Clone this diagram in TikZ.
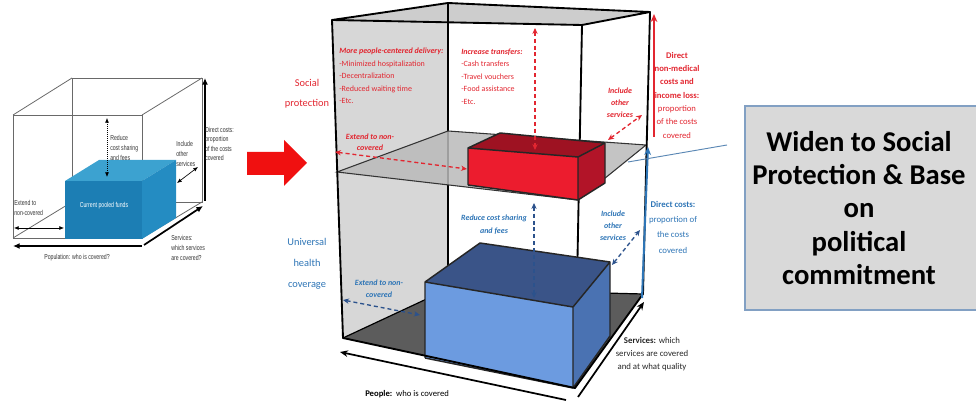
\documentclass[tikz,border=0pt]{standalone}
\usepackage{fontspec}
\setmainfont{Carlito}
\newfontfamily\condfont[FakeStretch=0.72]{Liberation Sans}
\usetikzlibrary{arrows.meta}
\definecolor{rtxt}{RGB}{226,38,48}
\definecolor{btxt}{RGB}{46,117,182}
\definecolor{bdark}{RGB}{44,82,140}
\definecolor{boxtop}{RGB}{58,84,136}
\definecolor{boxfront}{RGB}{108,155,224}
\definecolor{boxside}{RGB}{74,114,178}
\definecolor{redfront}{RGB}{236,28,46}
\definecolor{redtop}{RGB}{158,18,34}
\definecolor{redside}{RGB}{178,20,40}
\definecolor{floorc}{RGB}{92,92,92}
\definecolor{wallc}{RGB}{215,215,215}
\definecolor{slicec}{RGB}{186,186,186}
\definecolor{ceilc}{RGB}{205,205,205}
\definecolor{pfront}{RGB}{28,126,180}
\definecolor{ptop}{RGB}{60,162,208}
\definecolor{pside}{RGB}{36,140,194}
\definecolor{thinc}{RGB}{105,105,105}
\definecolor{panel}{RGB}{217,217,217}
\definecolor{panelline}{RGB}{130,160,195}
\definecolor{linkc}{RGB}{90,135,180}
\definecolor{arrowred}{RGB}{240,16,16}

\begin{document}
\begin{tikzpicture}[x=0.75pt,y=-0.75pt,
  edge/.style={line width=1.4pt, line join=round, line cap=round},
  backedge/.style={line width=0.9pt},
  thinedge/.style={draw=thinc, line width=0.6pt},
  rdash/.style={draw=rtxt, line width=1pt, dash pattern=on 3pt off 2.2pt,
                {Stealth[length=4.5pt,width=4pt]}-{Stealth[length=4.5pt,width=4pt]}},
  bdash/.style={draw=bdark, line width=1pt, dash pattern=on 3pt off 2.2pt,
                {Stealth[length=4.5pt,width=4pt]}-{Stealth[length=4.5pt,width=4pt]}},
  smallarr/.style={draw=black, line width=0.5pt, {Latex[length=3.5pt,width=3pt]}-{Latex[length=3.5pt,width=3pt]}},
  bigarr/.style={draw=black, line width=1.3pt, -{Latex[length=5pt,width=4.5pt]}},
  lab/.style={inner sep=0pt, font=\fontsize{6}{9}\selectfont\bfseries\itshape},
  cond/.style={inner sep=0pt, align=left, font=\condfont\fontsize{5.4}{7.5}\selectfont, text=black!80},
]
\path[use as bounding box] (0,0) rectangle (976,402);

% ---------------- small cube (current situation) ----------------
\coordinate (F1) at (13,115);  \coordinate (F2) at (142,115);
\coordinate (F3) at (142,238); \coordinate (F4) at (13,238);
\coordinate (B1) at (72,78);   \coordinate (B2) at (202,78);
\coordinate (B3) at (202,202); \coordinate (B4) at (72,202);
\draw[thinedge] (B1)--(B2)--(B3)--(B4)--cycle;
\draw[thinedge] (F1)--(B1) (F2)--(B2) (F3)--(B3) (F4)--(B4);
\draw[thinedge] (F1)--(F2)--(F3)--(F4)--cycle;
% pooled funds block
\fill[pfront] (65,181) rectangle (142,239);
\fill[ptop] (65,181)--(99,160)--(176,160)--(142,181)--cycle;
\fill[pside] (142,181)--(176,160)--(176,218)--(142,239)--cycle;
\node[inner sep=0pt, text=white, font=\condfont\fontsize{5.4}{7}\selectfont] (pooled) at (104,206) {Current pooled funds};
% small cube arrows
\coordinate (rdA) at (107,118); \coordinate (rdB) at (107,177);
\draw[smallarr, densely dotted] (rdA)--(rdB);
\coordinate (ioA) at (177,183); \coordinate (ioB) at (198,167);
\draw[smallarr] (ioA)--(ioB);
\coordinate (exA) at (14,228); \coordinate (exB) at (64,228);
\draw[smallarr] (exA)--(exB);
\coordinate (popA) at (142,246); \coordinate (popB) at (13,246);
\draw[bigarr] (popA)--(popB);
\coordinate (svA) at (144,245); \coordinate (svB) at (203,206);
\draw[bigarr] (svA)--(svB);
\coordinate (dcA) at (205,201); \coordinate (dcB) at (205,78);
\draw[bigarr] (dcA)--(dcB);
% small cube labels
\node[cond, anchor=west] (sreduce) at (110,148) {Reduce\\cost sharing\\and fees};
\node[cond, anchor=west] (sinclude) at (176,153.5) {Include\\other\\services};
\node[cond, anchor=west, font=\condfont\fontsize{5.4}{7}\selectfont] (sdirect) at (205,144) {Direct costs:\\proportion\\of the costs\\covered};
\node[cond, anchor=west] (sextend) at (14,208) {Extend to\\non-covered};
\node[cond] (spop) at (77,258) {Population: who is covered?};
\node[cond, anchor=west] (sserv) at (171,247.5) {Services:\\which services\\are covered?};

% ---------------- block arrow ----------------
\fill[arrowred] (247,152)--(284,152)--(284,140)--(307,163)--(284,186)--(284,175)--(247,175)--cycle;

% ---------------- side captions ----------------
\node[inner sep=0pt, align=center, text=rtxt, font=\fontsize{7.8}{15}\selectfont] (socprot) at (307,94) {Social\\protection};
\node[inner sep=0pt, align=center, text=btxt, font=\fontsize{7.8}{15.7}\selectfont] (uhc) at (307,264) {Universal\\health\\coverage};

% ---------------- big cube ----------------
\coordinate (cL) at (332,20);  \coordinate (cB) at (448,3);
\coordinate (cR) at (650,12);  \coordinate (cF) at (582,25);
\coordinate (fL) at (343,338); \coordinate (fB) at (448,289);
\coordinate (fR) at (643,294); \coordinate (fF) at (575,388);
\coordinate (sL) at (337,172); \coordinate (sB) at (448,131);
\coordinate (sR) at (646,145); \coordinate (sF) at (578,200);

\fill[wallc] (cL)--(cB)--(fB)--(fL)--cycle;
\fill[ceilc] (cL)--(cB)--(cR)--(cF)--cycle;
\fill[floorc] (fL)--(fB)--(fR)--(fF)--cycle;
\draw[backedge] (fL)--(fB)--(fR);
\draw[edge] (cB)--(fB);
\draw[edge] (cF)--(fF);

% universal coverage block
\fill[boxfront] (425,282)--(573,307)--(573,388)--(425,358)--cycle;
\fill[boxtop] (425,282)--(480,243)--(610,262)--(573,307)--cycle;
\fill[boxside] (573,307)--(610,262)--(610,336)--(573,388)--cycle;
\draw[line width=1.1pt, line join=round, black!85]
  (425,358)--(425,282)--(480,243)--(610,262)--(610,336)--(573,388)--(425,358)
  (425,282)--(573,307)--(610,262) (573,307)--(573,388);

% mid-level plane
\filldraw[fill=slicec, fill opacity=0.85, draw=black!80, line width=0.8pt] (sL)--(sB)--(sR)--(sF)--cycle;

% social protection block
\fill[redfront] (468,148)--(578,157)--(578,200)--(468,185)--cycle;
\fill[redtop] (468,148)--(500,133)--(605,143)--(578,157)--cycle;
\fill[redside] (578,157)--(605,143)--(605,183)--(578,200)--cycle;
\draw[line width=1.1pt, line join=round, black!85]
  (468,185)--(468,148)--(500,133)--(605,143)--(605,183)--(578,200)--(468,185)
  (468,148)--(578,157)--(605,143) (578,157)--(578,200);

% outer frame, front edges
\draw[edge] (cL)--(fL) (cR)--(fR);
\draw[edge] (cL)--(cF)--(cR)--(cB)--cycle;
\draw[edge] (fL)--(fF)--(fR);

% dimension arrows inside the cube
\coordinate (itA) at (535,28);  \coordinate (itB) at (535,150);
\draw[rdash] (itA)--(itB);
\coordinate (reA) at (335,152); \coordinate (reB) at (467,169);
\draw[rdash] (reA)--(reB);
\coordinate (riA) at (608,140); \coordinate (riB) at (642,115);
\draw[rdash] (riA)--(riB);
\coordinate (brA) at (534,203); \coordinate (brB) at (534,298);
\draw[bdash] (brA)--(brB);
\coordinate (beA) at (343,300); \coordinate (beB) at (420,315);
\draw[bdash] (beA)--(beB);
\coordinate (biA) at (612,265); \coordinate (biB) at (640,230);
\draw[bdash] (biA)--(biB);

% cost axes
\coordinate (nmA) at (654,137); \coordinate (nmB) at (654,14);
\draw[draw=rtxt, line width=1.5pt, -{Stealth[length=6pt,width=5pt]}] (nmA)--(nmB);
\coordinate (dcbA) at (642,298); \coordinate (dcbB) at (648,147);
\draw[draw=btxt, line width=1.5pt, -{Stealth[length=6pt,width=5pt]}] (dcbA)--(dcbB);

% people / services axes
\coordinate (ppA) at (566,400); \coordinate (ppB) at (340,352);
\draw[draw=black, line width=1.3pt, -{Stealth[length=6pt,width=5pt]}] (ppA)--(ppB);
\coordinate (svcA) at (578,397); \coordinate (svcB) at (644,302);
\draw[draw=black, line width=1.3pt, -{Stealth[length=6pt,width=5pt]}] (svcA)--(svcB);

% link to the panel
\coordinate (lkA) at (628,162); \coordinate (lkB) at (727,145);
\draw[draw=linkc, line width=0.7pt] (lkA)--(lkB);

% labels inside the cube
\node[inner sep=0pt, anchor=west, align=left, text=rtxt, font=\fontsize{6}{9.4}\selectfont] (pcd) at (339,76)
  {\textbf{\textit{More people-centered delivery:}}\\-Minimized hospitalization\\-Decentralization\\-Reduced waiting time\\-Etc.};
\node[inner sep=0pt, anchor=west, align=left, text=rtxt, font=\fontsize{6}{9.3}\selectfont] (itr) at (461,76.5)
  {\textbf{\textit{Increase transfers:}}\\-Cash transfers\\-Travel vouchers\\-Food assistance\\-Etc.};
\node[lab, align=center, text=rtxt, font=\fontsize{6}{9}\selectfont\bfseries\itshape] (rinc) at (620,103) {Include\\other\\services};
\node[lab, align=center, text=rtxt, font=\fontsize{6}{8.3}\selectfont\bfseries\itshape] (rext) at (370,142.5) {Extend to non-\\covered};
\node[inner sep=0pt, align=center, text=rtxt, font=\fontsize{6.5}{10}\selectfont] (nmed) at (677,95)
  {\textbf{Direct}\\\textbf{non-medical}\\\textbf{costs and}\\\textbf{income loss:}\\proportion\\of the costs\\covered};
\node[lab, align=center, text=btxt, font=\fontsize{6}{9.7}\selectfont\bfseries\itshape] (bred) at (494,224.5) {Reduce cost sharing\\and fees};
\node[lab, align=center, text=btxt, font=\fontsize{6}{9.2}\selectfont\bfseries\itshape] (binc) at (613,225.5) {Include\\other\\services};
\node[lab, align=center, text=btxt, font=\fontsize{6}{9}\selectfont\bfseries\itshape] (bext) at (379,289) {Extend to non-\\covered};
\node[inner sep=0pt, align=center, text=btxt, font=\fontsize{6.6}{11.5}\selectfont] (dcost) at (673,227)
  {\textbf{Direct costs:}\\proportion of\\the costs\\covered};
\node[inner sep=0pt, anchor=west, font=\fontsize{6.5}{8}\selectfont] (people) at (365,394) {\textbf{People:}\ \ who is covered};
\node[inner sep=0pt, align=center, font=\fontsize{6.6}{9.75}\selectfont, text=black!85] (serv) at (652,354)
  {\textbf{Services:} which\\services are covered\\and at what quality};

% ---------------- panel ----------------
\filldraw[fill=panel, draw=panelline, line width=0.8pt] (745,106) rectangle (990,310);
\node[inner sep=0pt, align=center, font=\fontsize{21.5}{25}\selectfont\bfseries] (widen) at (859,208)
  {Widen to Social\\Protection \& Base\\on\\political\\commitment};
\end{tikzpicture}
\end{document}
